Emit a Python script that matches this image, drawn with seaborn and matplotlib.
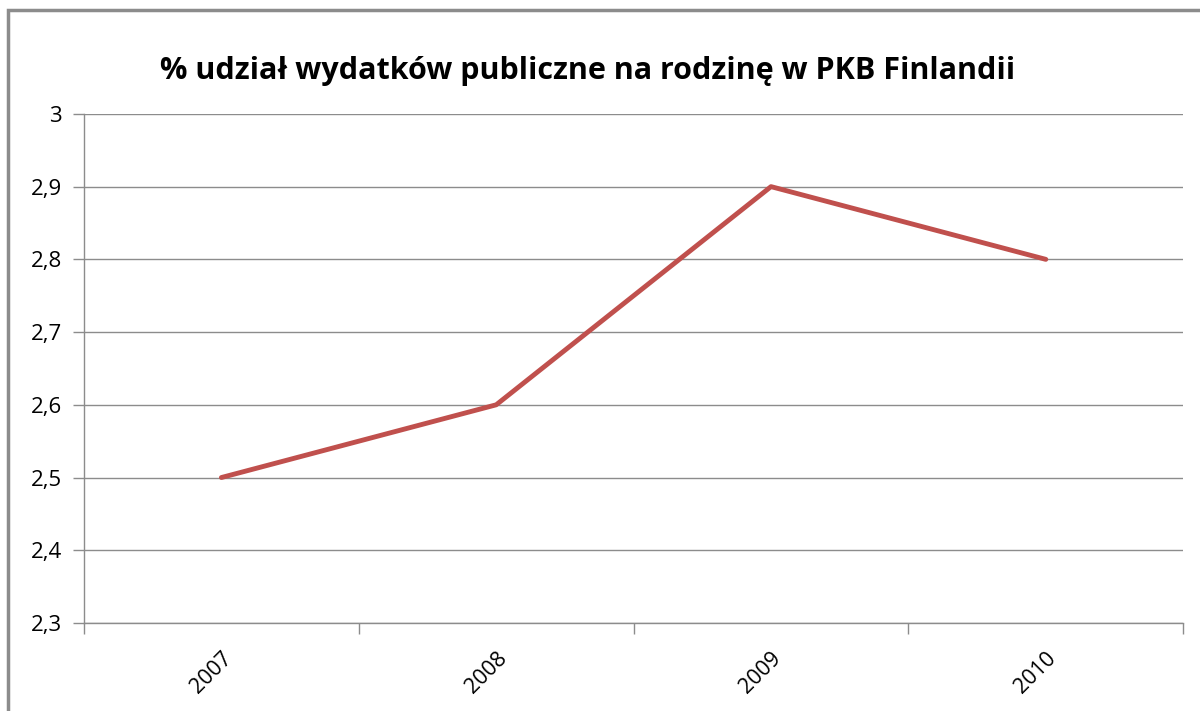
import seaborn as sns
import pandas as pd
import matplotlib.pyplot as plt
from matplotlib.ticker import FuncFormatter, FixedLocator
from matplotlib.patches import Rectangle

# Data
years = ['2007', '2008', '2009', '2010']
share = [2.5, 2.6, 2.9, 2.8]
y_ticks = [2.3, 2.4, 2.5, 2.6, 2.7, 2.8, 2.9, 3.0]

df = pd.DataFrame({'rok': years, 'udzial': share})

sns.set_theme(style='white')
plt.rcParams['font.family'] = ['Open Sans', 'DejaVu Sans']

fig = plt.figure(figsize=(12, 7.11), dpi=100)
ax = fig.add_axes([0.07, 0.1238, 0.916, 0.716])

# outer chart frame (left and top edges visible)
fig.patches.append(Rectangle((8 / 1200, -0.1), 1.2, 1 - 10 / 711 + 0.1,
                             transform=fig.transFigure, fill=False,
                             edgecolor='#8c8c8c', linewidth=2.5))

x = list(range(len(years)))
sns.lineplot(x=x, y=df['udzial'], ax=ax, color='#C0504D', linewidth=3.5)

ax.set_xlim(-0.5, len(years) - 0.5)
ax.set_ylim(2.3, 3.0)
ax.set_yticks(y_ticks)
ax.yaxis.set_major_formatter(FuncFormatter(
    lambda v, p: ('%g' % round(v, 1)).replace('.', ',')))
ax.grid(axis='y', color='#8c8c8c', linewidth=1)
ax.set_axisbelow(True)

ax.set_xticks(x)
ax.set_xticklabels(years, rotation=45, ha='right', rotation_mode='anchor')
ax.xaxis.set_minor_locator(FixedLocator([i - 0.5 for i in range(len(years) + 1)]))
ax.tick_params(axis='x', which='major', length=0, pad=18, labelsize=15.5,
               labelcolor='black')
ax.tick_params(axis='x', which='minor', length=8, width=1, color='#8c8c8c',
               bottom=True)
ax.tick_params(axis='y', length=8, width=1, color='#8c8c8c', left=True,
               labelsize=16, pad=8, labelcolor='black')

for side in ['top', 'right']:
    ax.spines[side].set_visible(False)
for side in ['left', 'bottom']:
    ax.spines[side].set_color('#8c8c8c')
    ax.spines[side].set_linewidth(1)

ax.set_xlabel('')
ax.set_ylabel('')
fig.text(0.49, 0.90, '% udział wydatków publiczne na rodzinę w PKB Finlandii',
         ha='center', va='center', fontsize=22, fontweight='bold',
         color='black')

fig.savefig('out.png', dpi=100)
